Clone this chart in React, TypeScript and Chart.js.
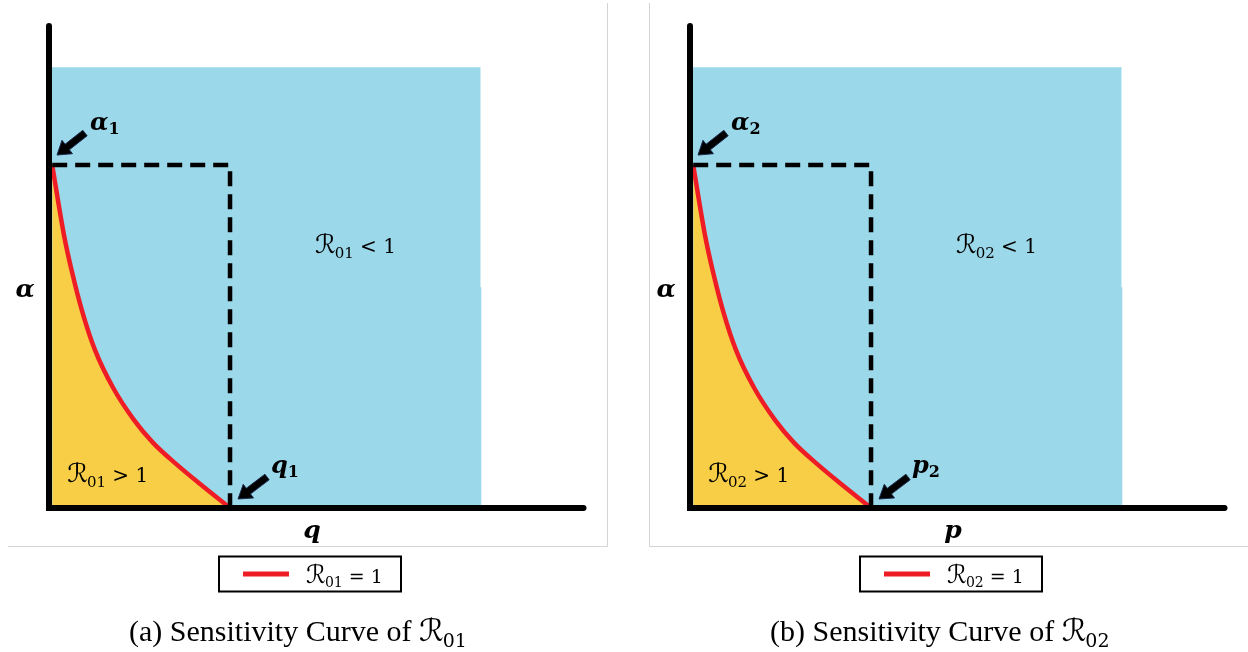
import React, { useEffect, useRef } from "react";
import { Chart, registerables } from "chart.js";

Chart.register(...registerables);

// Axis extents (arbitrary parameter units)
const X_MIN = 0;
const X_MAX = 10;
const Y_MIN = 0;
const Y_MAX = 10;

// Where the threshold curve meets each axis
const X_INTERCEPT = 3.39;
const ALPHA_INTERCEPT = 7.16;

// Threshold curve R0 = 1 : alpha as a function of q (or p)
const CURVE_X = [0.06, 0.28, 0.43, 0.62, 0.86, 1.2, 1.59, 1.95, 2.4, 2.83, X_INTERCEPT];
const CURVE_Y = [ALPHA_INTERCEPT, 5.7, 4.93, 4.11, 3.3, 2.51, 1.84, 1.36, 0.9, 0.5, 0];

// Outline of the explored parameter region (R0 < 1 outside the curve)
const REGION_X = [0, 8.08, 8.08, 8.1, 8.1];
const REGION_Y = [9.2, 9.2, 4.61, 4.61, 0];

// Dashed guide through (0, alpha), (q, alpha), (q, 0)
const GUIDE_X = [0.06, X_INTERCEPT, X_INTERCEPT];
const GUIDE_Y = [ALPHA_INTERCEPT, ALPHA_INTERCEPT, 0];

// Per-panel naming
const PANEL_TAGS = ["(a)", "(b)"];
const R_SUBSCRIPTS = ["01", "02"];
const X_NAMES = ["q", "p"];
const MARK_SUBSCRIPTS = ["1", "2"];
const CAPTION_TEXT = "Sensitivity Curve of ";

const BLUE = "#9BD8E9";
const YELLOW = "#F7CE46";
const RED = "#EE1C25";

const MATH = '"DejaVu Serif", "DejaVu Sans", serif';
const TIMES = '"Liberation Serif", "Times New Roman", serif';
const mf = (px: number, style = "") => `${style} ${px}px ${MATH}`.trim();

const zip = (xs: number[], ys: number[]) => xs.map((x, i) => ({ x, y: ys[i] }));

type Part = { t: string; font: string; dy?: number; gap?: number };

function drawRun(ctx: CanvasRenderingContext2D, x: number, y: number, parts: Part[], align: "left" | "center" = "left") {
  ctx.save();
  ctx.textAlign = "left";
  ctx.textBaseline = "alphabetic";
  ctx.fillStyle = "#000";
  const widths = parts.map((p) => {
    ctx.font = p.font;
    return ctx.measureText(p.t).width + (p.gap || 0);
  });
  const total = widths.reduce((a, b) => a + b, 0);
  let cx = align === "center" ? x - total / 2 : x;
  parts.forEach((p, i) => {
    ctx.font = p.font;
    ctx.fillText(p.t, cx, y + (p.dy || 0));
    cx += widths[i];
  });
  ctx.restore();
}

function drawArrow(ctx: CanvasRenderingContext2D, tx: number, ty: number, px: number, py: number) {
  const dx = px - tx;
  const dy = py - ty;
  const len = Math.hypot(dx, dy);
  const ux = dx / len;
  const uy = dy / len;
  const nx = -uy;
  const ny = ux;
  const shaft = 7;
  const head = 17;
  const headLen = 13;
  const bx = px - ux * headLen;
  const by = py - uy * headLen;
  ctx.save();
  ctx.beginPath();
  ctx.moveTo(tx + (nx * shaft) / 2, ty + (ny * shaft) / 2);
  ctx.lineTo(bx + (nx * shaft) / 2, by + (ny * shaft) / 2);
  ctx.lineTo(bx + (nx * head) / 2, by + (ny * head) / 2);
  ctx.lineTo(px, py);
  ctx.lineTo(bx - (nx * head) / 2, by - (ny * head) / 2);
  ctx.lineTo(bx - (nx * shaft) / 2, by - (ny * shaft) / 2);
  ctx.lineTo(tx - (nx * shaft) / 2, ty - (ny * shaft) / 2);
  ctx.closePath();
  ctx.fillStyle = "#000";
  ctx.fill();
  ctx.strokeStyle = "#1C2B4D";
  ctx.lineWidth = 1;
  ctx.stroke();
  ctx.restore();
}

function rExpr(sub: string, rest: string, size: number, subSize: number): Part[] {
  return [
    { t: "ℛ", font: mf(size + 5), gap: -1 },
    { t: sub, font: mf(subSize), dy: Math.round(size * 0.22) },
    { t: rest, font: mf(size - 1) },
  ];
}

function decorations(i: number) {
  return {
    id: "panelDecor" + i,
    beforeDraw(chart: any) {
      const { ctx, width } = chart;
      ctx.save();
      ctx.strokeStyle = "#D4D4D4";
      ctx.lineWidth = 1;
      ctx.beginPath();
      if (i === 0) {
        ctx.moveTo(607.5, 3);
        ctx.lineTo(607.5, 546.5);
        ctx.lineTo(8, 546.5);
      } else {
        ctx.moveTo(8.5, 3);
        ctx.lineTo(8.5, 546.5);
        ctx.lineTo(width, 546.5);
      }
      ctx.stroke();
      ctx.restore();
    },
    afterDraw(chart: any) {
      const { ctx } = chart;
      const xs = chart.scales.x;
      const ys = chart.scales.y;
      const x0 = xs.getPixelForValue(0);
      const y0 = ys.getPixelForValue(0);
      const xq = xs.getPixelForValue(X_INTERCEPT);
      const ya = ys.getPixelForValue(ALPHA_INTERCEPT);
      const sub = R_SUBSCRIPTS[i];

      // rounded ends of the two axes
      ctx.save();
      ctx.fillStyle = "#000";
      ctx.beginPath();
      ctx.arc(x0, chart.chartArea.top - 3, 3, 0, Math.PI * 2);
      ctx.arc(chart.chartArea.right + 0.5, y0, 3, 0, Math.PI * 2);
      ctx.fill();
      ctx.restore();

      // pointers to the two intercepts
      drawArrow(ctx, x0 + 36, ya - 32, x0 + 8, ya - 10);
      drawArrow(ctx, xq + 37, y0 - 31, xq + 8, y0 - 9);
      drawRun(ctx, x0 + 41, ya - 35, [
        { t: "α", font: mf(24, "italic bold") },
        { t: MARK_SUBSCRIPTS[i], font: mf(16, "bold"), dy: 4 },
      ]);
      drawRun(ctx, xq + 41, y0 - 35, [
        { t: X_NAMES[i], font: mf(24, "italic bold") },
        { t: MARK_SUBSCRIPTS[i], font: mf(16, "bold"), dy: 4 },
      ]);

      // region labels
      drawRun(ctx, xs.getPixelForValue(4.98), ys.getPixelForValue(5.32), rExpr(sub, " < 1", 21, 15));
      drawRun(ctx, xs.getPixelForValue(0.34), ys.getPixelForValue(0.54), rExpr(sub, " > 1", 21, 15));

      // axis names
      drawRun(ctx, 25, 297, [{ t: "α", font: mf(25, "italic bold") }], "center");
      drawRun(ctx, 312, 538, [{ t: X_NAMES[i], font: mf(25, "italic bold") }], "center");

      // legend
      const curve = chart.data.datasets[1];
      ctx.save();
      ctx.strokeStyle = "#000";
      ctx.lineWidth = 2;
      ctx.strokeRect(219, 556.5, 182, 35);
      ctx.strokeStyle = curve.borderColor;
      ctx.lineWidth = 5;
      ctx.beginPath();
      ctx.moveTo(243, 574);
      ctx.lineTo(289, 574);
      ctx.stroke();
      ctx.restore();
      drawRun(ctx, 306, 583, rExpr(sub, " = 1", 20, 14));

      // caption
      drawRun(ctx, 129, 641, [
        { t: PANEL_TAGS[i] + " " + CAPTION_TEXT, font: `30px ${TIMES}` },
        { t: "ℛ", font: mf(31), gap: -1 },
        { t: sub, font: mf(19), dy: 6 },
      ]);
    },
  };
}

function makeConfig(i: number, width: number): any {
  return {
    type: "line",
    data: {
      datasets: [
        {
          label: "guide",
          data: zip(GUIDE_X, GUIDE_Y),
          borderColor: "#000",
          borderWidth: 4.5,
          borderDash: [15, 8],
          borderJoinStyle: "miter",
          pointRadius: 0,
          fill: false,
          order: 0,
        },
        {
          label: `ℛ${R_SUBSCRIPTS[i]} = 1`,
          data: zip(CURVE_X, CURVE_Y),
          borderColor: RED,
          backgroundColor: YELLOW,
          borderWidth: 4.5,
          cubicInterpolationMode: "monotone",
          pointRadius: 0,
          fill: "origin",
          order: 1,
        },
        {
          label: "region",
          data: zip(REGION_X, REGION_Y),
          borderColor: "rgba(0,0,0,0)",
          borderWidth: 0,
          backgroundColor: BLUE,
          pointRadius: 0,
          fill: "origin",
          order: 2,
        },
      ],
    },
    options: {
      animation: false,
      responsive: false,
      maintainAspectRatio: false,
      events: [],
      layout: { padding: { left: 49, top: 29, bottom: 652 - 508, right: width - 583 } },
      plugins: { legend: { display: false }, tooltip: { enabled: false }, title: { display: false } },
      scales: {
        x: {
          type: "linear",
          min: X_MIN,
          max: X_MAX,
          ticks: { display: false },
          grid: { display: false, drawTicks: false, tickLength: 0 },
          border: { display: true, width: 6, color: "#000", z: 1 },
          title: { display: false },
        },
        y: {
          type: "linear",
          min: Y_MIN,
          max: Y_MAX,
          ticks: { display: false },
          grid: { display: false, drawTicks: false, tickLength: 0 },
          border: { display: true, width: 6, color: "#000", z: 1 },
          title: { display: false },
        },
      },
    },
    plugins: [decorations(i)],
  };
}

function Panel({ index, left, width }: { index: number; left: number; width: number }) {
  const ref = useRef<HTMLCanvasElement>(null);
  useEffect(() => {
    const chart = new Chart(ref.current as HTMLCanvasElement, makeConfig(index, width));
    return () => chart.destroy();
  }, [index, width]);
  return (
    <canvas
      ref={ref}
      width={width}
      height={652}
      style={{ position: "absolute", left, top: 0, width, height: 652 }}
    />
  );
}

export default function App() {
  return (
    <div style={{ position: "absolute", left: 0, top: 0, width: 1248, height: 652, background: "#fff", overflow: "hidden" }}>
      <Panel index={0} left={0} width={641} />
      <Panel index={1} left={641} width={607} />
    </div>
  );
}
